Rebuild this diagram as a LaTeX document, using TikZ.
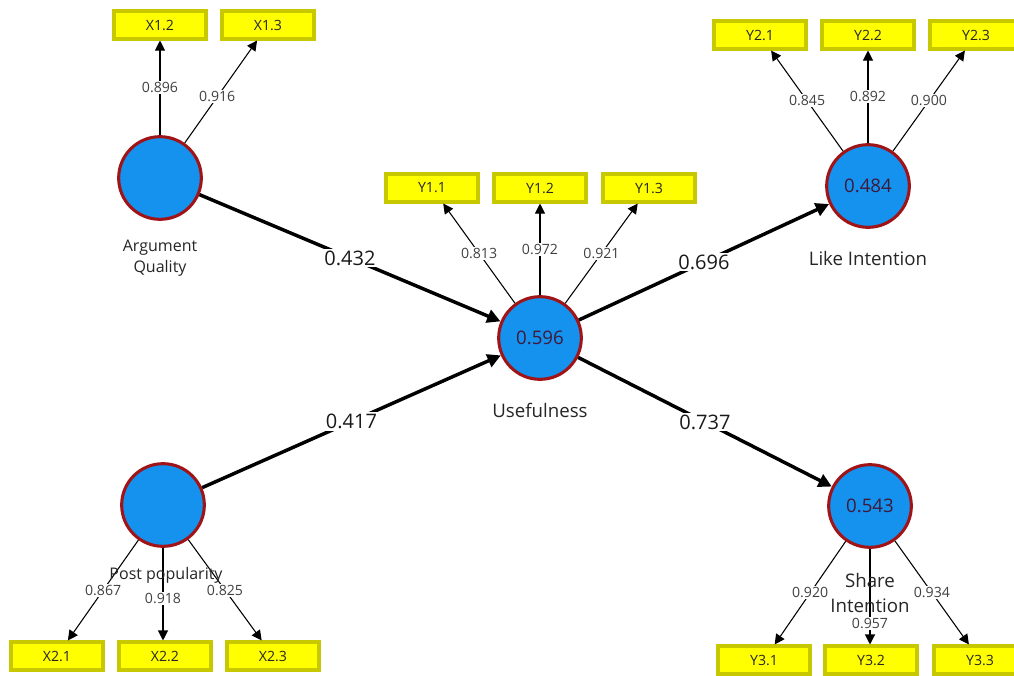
\documentclass[tikz,border=0pt]{standalone}
\usepackage{fontspec}
\setmainfont{Open Sans}
\usetikzlibrary{arrows.meta}
\definecolor{lvfill}{HTML}{1591EE}
\definecolor{lvborder}{HTML}{A01418}
\definecolor{mvfill}{HTML}{FFFF00}
\definecolor{mvborder}{HTML}{C8C800}
\definecolor{lvtext}{HTML}{3E1A3A}
\tikzset{
  latent/.style={circle, fill=lvfill, draw=lvborder, line width=2.3pt, minimum size=62pt, inner sep=0pt, text=lvtext, font=\fontsize{14}{16}\selectfont},
  manifest/.style={rectangle, fill=mvfill, draw=mvborder, line width=2.3pt, minimum width=69pt, minimum height=21pt, inner sep=0pt, text=black!85, font=\fontsize{10.6}{12}\selectfont},
  lvname/.style={align=center, text=black!85, font=\fontsize{14}{19}\selectfont},
  lvnamesmall/.style={align=center, text=black!85, font=\fontsize{12}{16}\selectfont},
  loading/.style={line width=0.8pt, -{Triangle[length=7.5pt,width=7.5pt]}},
  loadlab/.style={fill=white, inner sep=1pt, text=black!75, font=\fontsize{10.6}{12}\selectfont},
  path/.style={line width=2.6pt, -{Triangle[length=10pt,width=10pt]}},
  pathlab/.style={fill=white, inner sep=1.5pt, text=black!90, font=\fontsize{15}{17}\selectfont},
}
\begin{document}
\begin{tikzpicture}[x=0.75pt,y=-0.75pt]
\useasboundingbox (0,0) rectangle (1014,675);
\clip (0,0) rectangle (1014,675);
\fill[white] (0,0) rectangle (1014,675);
% latent variables
\node[latent] (AQ) at (160,178) {};
\node[latent] (U) at (540,338) {0.596};
\node[latent] (LI) at (868,186) {0.484};
\node[latent] (PP) at (163,505) {};
\node[latent] (SI) at (870,506) {0.543};
% indicators
\node[manifest] (X12) at (160,25) {X1.2};
\node[manifest] (X13) at (268,25) {X1.3};
\node[manifest] (Y11) at (432,188) {Y1.1};
\node[manifest] (Y12) at (540,188) {Y1.2};
\node[manifest] (Y13) at (649,188) {Y1.3};
\node[manifest] (Y21) at (760,35) {Y2.1};
\node[manifest] (Y22) at (868,35) {Y2.2};
\node[manifest] (Y23) at (976,35) {Y2.3};
\node[manifest] (X21) at (57,656) {X2.1};
\node[manifest] (X22) at (165,656) {X2.2};
\node[manifest] (X23) at (273,656) {X2.3};
\node[manifest] (Y31) at (764,660) {Y3.1};
\node[manifest] (Y32) at (871,660) {Y3.2};
\node[manifest] (Y33) at (980,660) {Y3.3};
% loadings
\draw[loading] (AQ) -- (AQ.north |- X12.south) node[loadlab,midway] {0.896};
\draw[loading] (AQ) -- (X13) node[loadlab,pos=0.45] {0.916};
\draw[loading] (U) -- (Y11) node[loadlab,midway] {0.813};
\draw[loading] (U) -- (Y12) node[loadlab,midway] {0.972};
\draw[loading] (U) -- (Y13) node[loadlab,midway] {0.921};
\draw[loading] (LI) -- (Y21) node[loadlab,midway] {0.845};
\draw[loading] (LI) -- (Y22) node[loadlab,midway] {0.892};
\draw[loading] (LI) -- (Y23) node[loadlab,midway] {0.900};
\draw[loading] (PP) -- (X21) node[loadlab,midway] {0.867};
\draw[loading] (PP) -- (PP.south |- X22.north) node[loadlab,pos=0.55] {0.918};
\draw[loading] (PP) -- (X23) node[loadlab,midway] {0.825};
\draw[loading] (SI) -- (Y31) node[loadlab,midway] {0.920};
\draw[loading] (SI) -- (SI.south |- Y32.north) node[loadlab,pos=0.78] {0.957};
\draw[loading] (SI) -- (Y33) node[loadlab,midway] {0.934};
% names
\node[lvnamesmall] (AQn) at (160,258) {Argument\\Quality};
\node[lvname] (Un) at (540,410) {Usefulness};
\node[lvname] (LIn) at (868,258) {Like Intention};
\node[lvnamesmall] (PPn) at (166,575) {Post popularity};
\node[lvname] (SIn) at (870,593) {Share\\Intention};
% paths
\draw[path] (AQ) -- (U) node[pathlab,midway] {0.432};
\draw[path] (PP) -- (U) node[pathlab,midway] {0.417};
\draw[path] (U) -- (LI) node[pathlab,midway] {0.696};
\draw[path] (U) -- (SI) node[pathlab,midway] {0.737};
\end{tikzpicture}
\end{document}
